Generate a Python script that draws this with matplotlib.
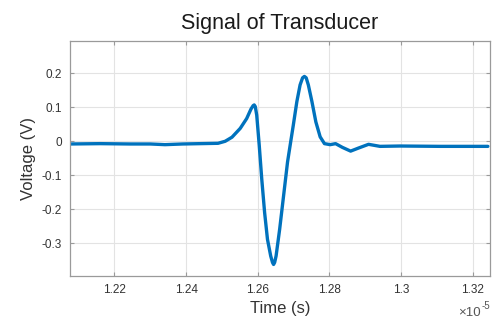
import matplotlib
matplotlib.use("Agg")
import matplotlib.pyplot as plt
import numpy as np

# time in units of 1e-5 s
time_e5 = [1.2076, 1.2160, 1.2244, 1.2300, 1.2341, 1.2390, 1.2439, 1.2489, 1.2509,
           1.2528, 1.2551, 1.2569, 1.2581, 1.2587, 1.2590, 1.2593, 1.2597, 1.2604,
           1.2611, 1.2619, 1.2627, 1.2636, 1.2641, 1.2644, 1.2647, 1.2651, 1.2661,
           1.2672, 1.2683, 1.2692, 1.2699, 1.2709, 1.2718, 1.2725, 1.2730, 1.2735,
           1.2741, 1.2751, 1.2762, 1.2774, 1.2786, 1.2802, 1.2817, 1.2836, 1.2859,
           1.2881, 1.2909, 1.2941, 1.2997, 1.3109, 1.3242]
voltage = [-0.008, -0.007, -0.008, -0.008, -0.010, -0.008, -0.007, -0.006, 0.000,
           0.012, 0.038, 0.067, 0.095, 0.105, 0.107, 0.102, 0.077, -0.012,
           -0.111, -0.210, -0.289, -0.338, -0.357, -0.363, -0.357, -0.338, -0.259,
           -0.160, -0.061, 0.000, 0.047, 0.117, 0.166, 0.187, 0.191, 0.187,
           0.166, 0.117, 0.057, 0.013, -0.007, -0.010, -0.007, -0.018, -0.029,
           -0.020, -0.009, -0.015, -0.014, -0.015, -0.015]

xticks = [1.22, 1.24, 1.26, 1.28, 1.30, 1.32]
xtick_labels = ["1.22", "1.24", "1.26", "1.28", "1.3", "1.32"]
yticks = [-0.3, -0.2, -0.1, 0.0, 0.1, 0.2]
ytick_labels = ["-0.3", "-0.2", "-0.1", "0", "0.1", "0.2"]

plt.rcParams['font.family'] = ['Liberation Sans', 'DejaVu Sans']

fig = plt.figure(figsize=(4.92, 3.29), dpi=100)
ax = fig.add_axes([0.1423, 0.161, 0.8537, 0.714])

ax.plot(time_e5, voltage, color='#0072BD', lw=2.4, solid_joinstyle='round',
        solid_capstyle='round')

ax.set_xlim(1.2076, 1.3248)
ax.set_ylim(-0.397, 0.295)
ax.set_xticks(xticks)
ax.set_xticklabels(xtick_labels)
ax.set_yticks(yticks)
ax.set_yticklabels(ytick_labels)

ax.grid(True, color='#e3e3e3', lw=0.8)
ax.set_axisbelow(True)
for s in ax.spines.values():
    s.set_color('#9a9a9a')
    s.set_linewidth(0.9)
ax.tick_params(direction='in', length=3, color='#9a9a9a', labelsize=8.5,
               labelcolor='#333333', top=True, right=True, pad=6)

ax.set_title('Signal of Transducer', fontsize=15.5, color='#1a1a1a', pad=9)
ax.set_xlabel('Time (s)', fontsize=12, color='#333333', labelpad=3)
ax.set_ylabel('Voltage (V)', fontsize=12, color='#333333', labelpad=4)

fig.text(481 / 492, 1 - 313 / 329, '\u00d710', fontsize=9.5, color='#555555',
         ha='right', va='center')
fig.text(481.5 / 492, 1 - 306 / 329, '-5', fontsize=7, color='#555555',
         ha='left', va='center')

fig.savefig('out.png', dpi=100, facecolor='white')
